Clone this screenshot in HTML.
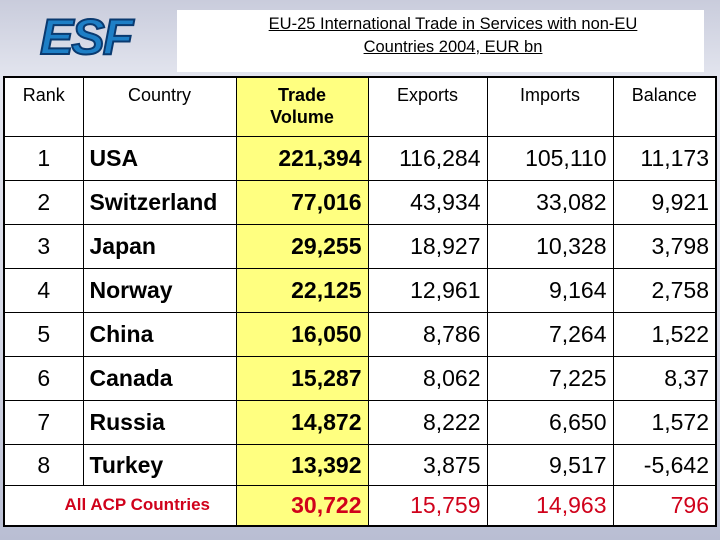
<!DOCTYPE html>
<html><head><meta charset="utf-8"><style>
body{margin:0;width:720px;height:540px;overflow:hidden;font-family:"Liberation Sans",Arial,sans-serif;
background:linear-gradient(180deg,#c9ccdc 0%,#e4e6ef 15%,#d6d9e6 60%,#b9bed3 100%);position:relative}
#titlebox{position:absolute;left:177px;top:10px;width:527px;height:62px;background:#fff}
#title{position:absolute;left:177px;top:13px;width:552px;text-align:center;font-size:16.5px;line-height:23px;text-decoration:underline;color:#000}
#logo{position:absolute;left:38px;top:14px}
table{position:absolute;left:3px;top:76px;border-collapse:collapse;background:#fff;border:2px solid #000}
td{border:1px solid #000;padding:0 6px;font-size:23px;line-height:24px;height:44px;box-sizing:border-box}
.h td{height:59px;vertical-align:top;font-size:18px;text-align:center;padding-top:6px;line-height:22px}
tr.s td{height:41px}
.y{background:#ffff80}
.r{text-align:right}.c{text-align:center}.b{font-weight:bold}
.red{color:#d0021b}
</style></head><body>
<div id="titlebox"></div>
<div id="title">EU-25 International Trade in Services with non-EU<br>Countries 2004, EUR bn</div>
<svg id="logo" width="120" height="46">
<text x="2" y="40" font-family="Liberation Sans" font-weight="bold" font-style="italic" font-size="50" fill="#1e7fc6" stroke="#0a3a70" stroke-width="2" letter-spacing="-2">ESF</text>
</svg>
<table>
<colgroup><col style="width:79px"><col style="width:153px"><col style="width:132px"><col style="width:119px"><col style="width:126px"><col style="width:103px"></colgroup>
<tr class="h"><td>Rank</td><td>Country</td><td class="y b">Trade<br>Volume</td><td>Exports</td><td>Imports</td><td>Balance</td></tr>
<tr><td class="c">1</td><td class="b">USA</td><td class="y b r">221,394</td><td class="r">116,284</td><td class="r">105,110</td><td class="r">11,173</td></tr>
<tr><td class="c">2</td><td class="b">Switzerland</td><td class="y b r">77,016</td><td class="r">43,934</td><td class="r">33,082</td><td class="r">9,921</td></tr>
<tr><td class="c">3</td><td class="b">Japan</td><td class="y b r">29,255</td><td class="r">18,927</td><td class="r">10,328</td><td class="r">3,798</td></tr>
<tr><td class="c">4</td><td class="b">Norway</td><td class="y b r">22,125</td><td class="r">12,961</td><td class="r">9,164</td><td class="r">2,758</td></tr>
<tr><td class="c">5</td><td class="b">China</td><td class="y b r">16,050</td><td class="r">8,786</td><td class="r">7,264</td><td class="r">1,522</td></tr>
<tr><td class="c">6</td><td class="b">Canada</td><td class="y b r">15,287</td><td class="r">8,062</td><td class="r">7,225</td><td class="r">8,37</td></tr>
<tr><td class="c">7</td><td class="b">Russia</td><td class="y b r">14,872</td><td class="r">8,222</td><td class="r">6,650</td><td class="r">1,572</td></tr>
<tr class="s"><td class="c">8</td><td class="b">Turkey</td><td class="y b r">13,392</td><td class="r">3,875</td><td class="r">9,517</td><td class="r">-5,642</td></tr>
<tr class="s"><td colspan="2" class="b red c" style="font-size:17px;padding-left:40px">All ACP Countries</td><td class="y b r red">30,722</td><td class="r red">15,759</td><td class="r red">14,963</td><td class="r red">796</td></tr>
</table>
</body></html>
